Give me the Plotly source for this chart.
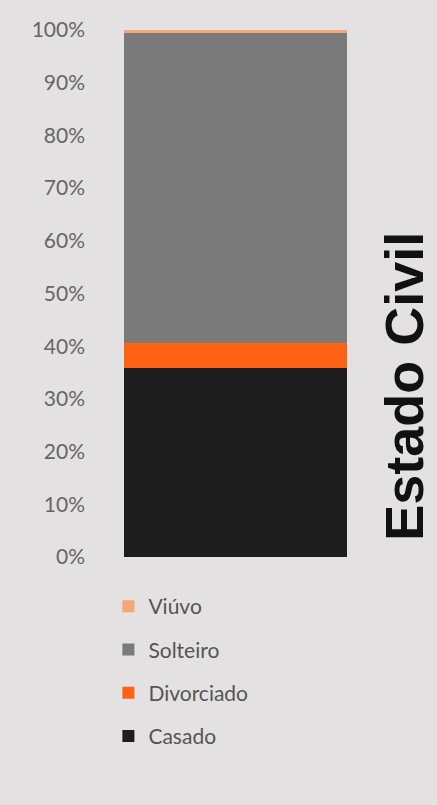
import plotly.graph_objects as go

# Marital status shares (percent of respondents), stacked bottom to top
categories = ["Estado Civil"]
series_names = ["Casado", "Divorciado", "Solteiro", "Viúvo"]
series_values = [
    [35.9],  # Casado
    [4.7],   # Divorciado
    [58.9],  # Solteiro
    [0.5],   # Viúvo
]
series_colors = ["#1d1d1d", "#ff6212", "#7a7a7a", "#f6a679"]
tick_values = [0, 10, 20, 30, 40, 50, 60, 70, 80, 90, 100]
tick_labels = [f"{v}%" for v in tick_values]

bg = "#e3e1e1"

fig = go.Figure()
n = len(series_names)
for i, (name, vals, color) in enumerate(zip(series_names, series_values, series_colors)):
    fig.add_trace(go.Bar(
        x=categories,
        y=vals,
        name=name,
        legendgroup=name,
        legendrank=n - i,  # top segment listed first
        marker=dict(color=color, line=dict(width=0)),
        width=1,
    ))

fig.update_layout(
    width=437,
    height=805,
    barmode="stack",
    bargap=0,
    paper_bgcolor=bg,
    plot_bgcolor=bg,
    margin=dict(l=124, r=90, t=30, b=248),
    font=dict(family="Lato, 'Noto Sans', sans-serif", color="#5a5a5a"),
    xaxis=dict(visible=False, range=[-0.5, 0.5]),
    yaxis=dict(
        range=[0, 100],
        tickvals=tick_values,
        ticktext=tick_labels,
        showgrid=False,
        zeroline=False,
        showline=False,
        ticks="",
        ticklabelstandoff=38,
        tickfont=dict(size=21, color="#666666"),
    ),
    showlegend=True,
    legend=dict(
        traceorder="grouped",
        orientation="v",
        x=-0.07,
        xanchor="left",
        y=-0.055,
        yanchor="top",
        font=dict(size=21, color="#555555"),
        tracegroupgap=13,
        itemwidth=30,
        bgcolor="rgba(0,0,0,0)",
    ),
    annotations=[dict(
        text="<b>Estado Civil</b>",
        x=1.256,
        y=0.323,
        xref="paper",
        yref="paper",
        xanchor="center",
        yanchor="middle",
        textangle=-90,
        showarrow=False,
        font=dict(family="'Liberation Sans', Arial, sans-serif", size=54, color="#111111"),
    )],
)

fig.write_html("out.html")
